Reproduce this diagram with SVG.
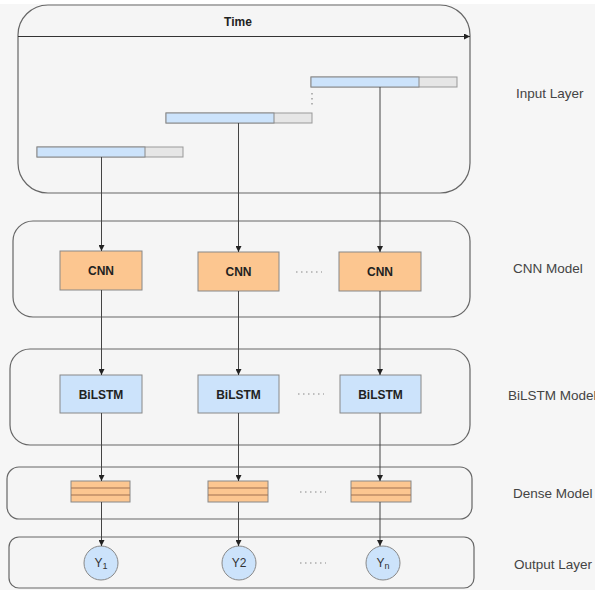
<svg xmlns="http://www.w3.org/2000/svg" width="595" height="590" viewBox="0 0 595 590">
<defs>
<marker id="arr" viewBox="0 0 6 6" refX="6" refY="3" markerWidth="6" markerHeight="6" markerUnits="userSpaceOnUse" orient="auto">
<path d="M0,0 L6,3 L0,6 Z" fill="#222"/>
</marker>
<style>
.cont{fill:#f5f5f5;stroke:#666;stroke-width:1.2}
.cnn{fill:#fcc690;stroke:#888;stroke-width:1}
.bl{fill:#cce3fb;stroke:#888;stroke-width:1}
.gr{fill:#e6e6e6;stroke:#999;stroke-width:1}
.con{stroke:#444;stroke-width:1;fill:none;marker-end:url(#arr)}
.bt{font-family:"Liberation Sans",Arial,sans-serif;font-weight:bold;font-size:12px;fill:#222;text-anchor:middle}
.lab{font-family:"Liberation Sans",Arial,sans-serif;font-size:13.5px;fill:#444}
.dots{stroke:#888;stroke-width:1.2;stroke-dasharray:1.5 3.5;fill:none}
.yt{font-family:"Liberation Sans",Arial,sans-serif;font-size:12px;fill:#333;text-anchor:middle}
</style>
</defs>
<rect width="595" height="590" fill="#f6f6f6"/>
<rect width="595" height="4" fill="#ffffff"/>

<g id="input-layer">
<rect class="cont" x="18" y="5" width="452" height="188" rx="30"/>
<text class="bt" x="238" y="26" font-size="13">Time</text>
<line x1="18" y1="36.5" x2="470" y2="36.5" stroke="#333" stroke-width="1" marker-end="url(#arr)"/>
<g id="seq1"><rect class="gr" x="37" y="147" width="146" height="10"/><rect class="bl" x="37" y="147" width="108" height="10"/></g>
<g id="seq2"><rect class="gr" x="166" y="113" width="146" height="10"/><rect class="bl" x="166" y="113" width="108" height="10"/></g>
<g id="seq3"><rect class="gr" x="311" y="77" width="146" height="10"/><rect class="bl" x="311" y="77" width="108" height="10"/></g>
<line x1="312" y1="93" x2="312" y2="108" class="dots"/>
</g>

<g id="cnn-layer">
<rect class="cont" x="13" y="221" width="457" height="96" rx="20"/>
<g id="cnn1"><rect class="cnn" x="60" y="251" width="82" height="39"/><text class="bt" x="101" y="275">CNN</text></g>
<g id="cnn2"><rect class="cnn" x="198" y="252" width="81" height="39"/><text class="bt" x="238.5" y="276">CNN</text></g>
<g id="cnn3"><rect class="cnn" x="339" y="252" width="82" height="39"/><text class="bt" x="380" y="276">CNN</text></g>
<line x1="296" y1="272" x2="322" y2="272" class="dots"/>
</g>

<g id="bilstm-layer">
<rect class="cont" x="10" y="349" width="460" height="96" rx="20"/>
<g id="bilstm1"><rect class="bl" x="60" y="375" width="82" height="38"/><text class="bt" x="101" y="398.5">BiLSTM</text></g>
<g id="bilstm2"><rect class="bl" x="198" y="375" width="81" height="38"/><text class="bt" x="238.5" y="398.5">BiLSTM</text></g>
<g id="bilstm3"><rect class="bl" x="340" y="375" width="81" height="38"/><text class="bt" x="380.5" y="398.5">BiLSTM</text></g>
<line x1="298" y1="394" x2="324" y2="394" class="dots"/>
</g>

<g id="dense-layer">
<rect class="cont" x="7" y="467" width="465" height="52" rx="12"/>
<g id="dense1"><rect class="cnn" x="71" y="481" width="59" height="21"/><line x1="71" y1="488" x2="130" y2="488" stroke="#a07050"/><line x1="71" y1="495" x2="130" y2="495" stroke="#a07050"/></g>
<g id="dense2"><rect class="cnn" x="208" y="481" width="60" height="21"/><line x1="208" y1="488" x2="268" y2="488" stroke="#a07050"/><line x1="208" y1="495" x2="268" y2="495" stroke="#a07050"/></g>
<g id="dense3"><rect class="cnn" x="351" y="481" width="60" height="21"/><line x1="351" y1="488" x2="411" y2="488" stroke="#a07050"/><line x1="351" y1="495" x2="411" y2="495" stroke="#a07050"/></g>
<line x1="300" y1="492" x2="326" y2="492" class="dots"/>
</g>

<g id="output-layer">
<rect class="cont" x="9" y="537" width="465" height="51" rx="10"/>
<g id="y1"><circle class="bl" cx="101" cy="563" r="17"/><text class="yt" x="101" y="567">Y<tspan font-size="9" dy="2">1</tspan></text></g>
<g id="y2"><circle class="bl" cx="239" cy="563" r="17"/><text class="yt" x="239" y="567">Y2</text></g>
<g id="yn"><circle class="bl" cx="383" cy="563" r="17"/><text class="yt" x="383" y="567">Y<tspan font-size="9" dy="2">n</tspan></text></g>
<line x1="300" y1="563" x2="326" y2="563" class="dots"/>
</g>

<g id="labels">
<text class="lab" x="516" y="98">Input Layer</text>
<text class="lab" x="513" y="273">CNN Model</text>
<text class="lab" x="508" y="400">BiLSTM Model</text>
<text class="lab" x="513" y="498">Dense Model</text>
<text class="lab" x="514" y="569">Output Layer</text>
</g>

<g id="connectors">
<line class="con" x1="101.5" y1="157" x2="101.5" y2="251"/>
<line class="con" x1="238.5" y1="123" x2="238.5" y2="252"/>
<line class="con" x1="380" y1="87" x2="380" y2="252"/>
<line class="con" x1="101.5" y1="290" x2="101.5" y2="375"/>
<line class="con" x1="238.5" y1="291" x2="238.5" y2="375"/>
<line class="con" x1="380" y1="291" x2="380" y2="375"/>
<line class="con" x1="101.5" y1="413" x2="101.5" y2="481"/>
<line class="con" x1="238.5" y1="413" x2="238.5" y2="481"/>
<line class="con" x1="380" y1="413" x2="380" y2="481"/>
<line class="con" x1="101.5" y1="502" x2="101.5" y2="546"/>
<line class="con" x1="238.5" y1="502" x2="238.5" y2="546"/>
<line class="con" x1="380" y1="502" x2="380" y2="546"/>
</g>
</svg>
